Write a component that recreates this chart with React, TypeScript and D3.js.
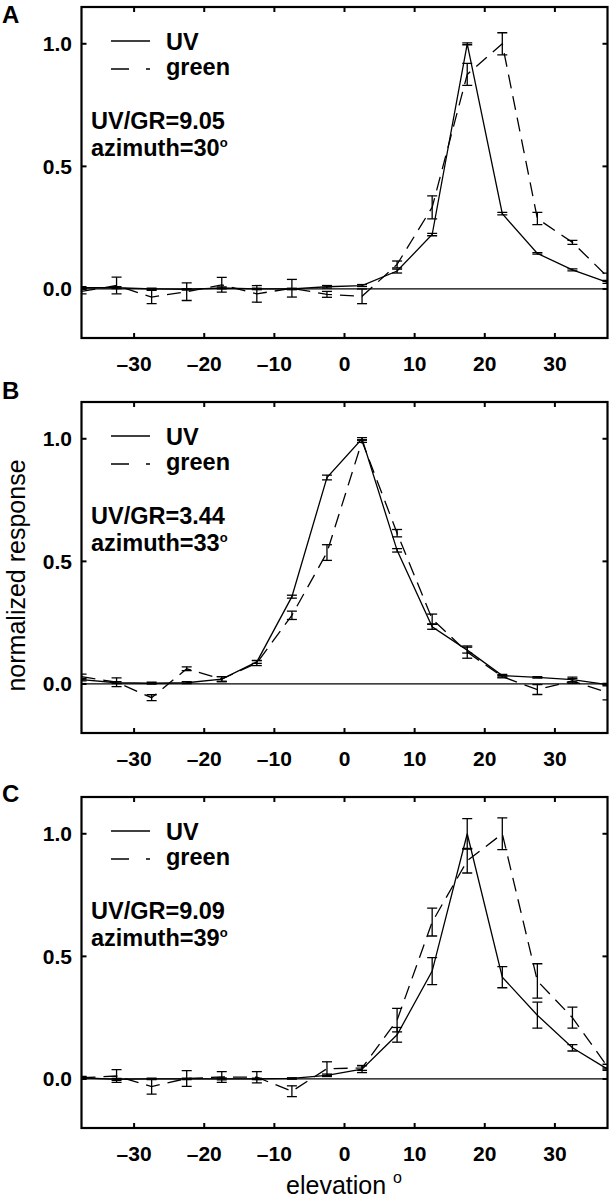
import React from 'react';
import * as d3 from 'd3';

// elevation positions of the measurements (degrees)
const elevations = [-37.5, -32.5, -27.5, -22.5, -17.5, -12.5, -7.5, -2.5, 2.5, 7.5, 12.5, 17.5, 22.5, 27.5, 32.5, 37.5];

// Panel A
const uvA = [0.005, 0.005, 0.0, -0.002, 0.004, 0.0, 0.0, 0.009, 0.014, 0.073, 0.222, 1.0, 0.307, 0.145, 0.078, 0.027];
const uvAErr = [0.004, 0.004, 0.003, 0.003, 0.004, 0.003, 0.003, 0.005, 0.004, 0.008, 0.005, 0.004, 0.005, 0.003, 0.004, 0.004];
const grA = [-0.01, 0.014, -0.033, -0.011, 0.017, -0.02, 0.003, -0.022, -0.03, 0.1, 0.333, 0.875, 1.0, 0.287, 0.19, 0.05];
const grAErr = [0.01, 0.034, 0.027, 0.036, 0.03, 0.034, 0.036, 0.012, 0.03, 0.014, 0.047, 0.045, 0.045, 0.025, 0.008, 0.015];

// Panel B
const uvB = [0.018, 0.005, 0.003, 0.005, 0.02, 0.09, 0.356, 0.842, 1.0, 0.545, 0.233, 0.138, 0.034, 0.027, 0.018, -0.003];
const uvBErr = [0.005, 0.004, 0.004, 0.004, 0.01, 0.006, 0.006, 0.01, 0.005, 0.007, 0.01, 0.012, 0.005, 0.003, 0.01, 0.005];
const grB = [0.03, 0.007, -0.056, 0.062, 0.02, 0.085, 0.28, 0.536, 0.99, 0.615, 0.265, 0.13, 0.03, -0.023, 0.012, -0.035];
const grBErr = [0.01, 0.018, 0.012, 0.008, 0.01, 0.01, 0.017, 0.032, 0.005, 0.015, 0.02, 0.025, 0.005, 0.02, 0.01, 0.03];

// Panel C
const uvC = [0.005, -0.002, 0.0, 0.0, 0.0, 0.0, 0.002, 0.015, 0.04, 0.18, 0.44, 1.0, 0.415, 0.26, 0.127, 0.04];
const uvCErr = [0.004, 0.004, 0.003, 0.003, 0.004, 0.003, 0.003, 0.005, 0.014, 0.03, 0.055, 0.062, 0.043, 0.053, 0.013, 0.005];
const grC = [0.005, 0.012, -0.031, 0.002, 0.008, 0.007, -0.05, 0.042, 0.045, 0.24, 0.64, 0.89, 1.0, 0.4, 0.25, 0.05];
const grCErr = [0.005, 0.026, 0.031, 0.032, 0.022, 0.023, 0.022, 0.028, 0.01, 0.048, 0.057, 0.05, 0.065, 0.07, 0.043, 0.01];

const xTicks = [-30, -20, -10, 0, 10, 20, 30];
const yTicks = [0, 0.5, 1.0];
const panelLetters = ['A', 'B', 'C'];
const ratioLabels = ['UV/GR=9.05', 'UV/GR=3.44', 'UV/GR=9.09'];
const azimuths = [30, 33, 39];
const seriesNames = ['UV', 'green'];

const uvSeries = [uvA, uvB, uvC];
const uvErrSeries = [uvAErr, uvBErr, uvCErr];
const grSeries = [grA, grB, grC];
const grErrSeries = [grAErr, grBErr, grCErr];

// layout
const W = 611;
const H = 1199;
const LEFT = 81.5;
const RIGHT = 607.5;
const PANEL_H = 331;
const panelTops = [7, 402, 797];
const letterBaselines = [22.5, 399, 802];
const FONT = '"Liberation Sans", Arial, Helvetica, sans-serif';
const DASH = '14,8';

const x = d3.scaleLinear().domain([-37.5, 37.5]).range([LEFT, RIGHT]);
const fmtY = d3.format('.1f');
const fmtX = (v: number) => (v < 0 ? '\u2013' + Math.abs(v) : String(v));

function Panel({ idx }: { idx: number }) {
  const top = panelTops[idx];
  const bottom = top + PANEL_H;
  const y = d3.scaleLinear().domain([-0.2, 1.15]).range([bottom, top]);
  const uv = uvSeries[idx];
  const uvE = uvErrSeries[idx];
  const gr = grSeries[idx];
  const grE = grErrSeries[idx];
  const line = d3
    .line<number>()
    .x((_, i) => x(elevations[i]))
    .y((d) => y(d));
  const clipId = `clip${idx}`;
  const cap = 5;
  const errBars = (vals: number[], errs: number[], key: string) =>
    vals.map((v, i) => {
      const cx = x(elevations[i]);
      const y1 = y(v + errs[i]);
      const y2 = y(v - errs[i]);
      return (
        <g key={key + i}>
          <line x1={cx} x2={cx} y1={y1} y2={y2} />
          <line x1={cx - cap} x2={cx + cap} y1={y1} y2={y1} />
          <line x1={cx - cap} x2={cx + cap} y1={y2} y2={y2} />
        </g>
      );
    });
  return (
    <g>
      <defs>
        <clipPath id={clipId}>
          <rect x={LEFT} y={top} width={RIGHT - LEFT} height={PANEL_H} />
        </clipPath>
      </defs>
      <text x={2} y={letterBaselines[idx]} fontFamily={FONT} fontWeight="bold" fontSize={24}>
        {panelLetters[idx]}
      </text>
      {/* zero line */}
      <line x1={LEFT} x2={RIGHT} y1={y(0)} y2={y(0)} stroke="#000" strokeWidth={1.2} />
      <g clipPath={`url(#${clipId})`} fill="none" stroke="#000" strokeWidth={1.3}>
        <path d={line(gr) || ''} strokeDasharray={DASH} />
        <path d={line(uv) || ''} />
        <g>{errBars(gr, grE, 'g')}</g>
        <g>{errBars(uv, uvE, 'u')}</g>
      </g>
      {/* frame */}
      <rect x={LEFT} y={top} width={RIGHT - LEFT} height={PANEL_H} fill="none" stroke="#000" strokeWidth={2.2} />
      {/* ticks */}
      <g stroke="#000" strokeWidth={2}>
        {xTicks.map((t) => (
          <g key={'xt' + t}>
            <line x1={x(t)} x2={x(t)} y1={bottom} y2={bottom - 5} />
            <line x1={x(t)} x2={x(t)} y1={top} y2={top + 5} />
          </g>
        ))}
        {yTicks.map((t) => (
          <g key={'yt' + t}>
            <line x1={LEFT} x2={LEFT + 5} y1={y(t)} y2={y(t)} />
            <line x1={RIGHT} x2={RIGHT - 5} y1={y(t)} y2={y(t)} />
          </g>
        ))}
      </g>
      <g fontFamily={FONT} fontWeight="bold" fontSize={21}>
        {xTicks.map((t) => (
          <text key={'xl' + t} x={x(t)} y={bottom + 33} textAnchor="middle">
            {fmtX(t)}
          </text>
        ))}
        {yTicks.map((t) => (
          <text key={'yl' + t} x={LEFT - 9.5} y={y(t) + 7.5} textAnchor="end">
            {fmtY(t)}
          </text>
        ))}
      </g>
      {/* legend */}
      <g stroke="#000" strokeWidth={1.3}>
        <line x1={111} x2={150} y1={top + 34} y2={top + 34} />
        <line x1={111} x2={150} y1={top + 62} y2={top + 62} strokeDasharray="18,17" />
      </g>
      <g fontFamily={FONT} fontWeight="bold" fontSize={23.5}>
        <text x={166} y={top + 42.5}>{seriesNames[0]}</text>
        <text x={166} y={top + 68}>{seriesNames[1]}</text>
        <text x={91} y={top + 122}>{ratioLabels[idx]}</text>
        <text x={91} y={top + 149}>
          {`azimuth=${azimuths[idx]}`}
          <tspan dy={-9} fontSize={13}>o</tspan>
        </text>
      </g>
    </g>
  );
}

export default function App() {
  return (
    <svg
      width={W}
      height={H}
      viewBox={`0 0 ${W} ${H}`}
      style={{ position: 'absolute', left: 0, top: 0, background: '#fff' }}
    >
      <rect x={0} y={0} width={W} height={H} fill="#fff" />
      {[0, 1, 2].map((i) => (
        <Panel key={i} idx={i} />
      ))}
      <text
        transform={`translate(25, ${(panelTops[1] + panelTops[1] + PANEL_H) / 2 + 8}) rotate(-90)`}
        textAnchor="middle"
        fontFamily={FONT}
        fontSize={25}
      >
        normalized response
      </text>
      <text x={344} y={1194} textAnchor="middle" fontFamily={FONT} fontSize={25}>
        elevation{' '}
        <tspan dy={-11} fontSize={16}>o</tspan>
      </text>
    </svg>
  );
}
